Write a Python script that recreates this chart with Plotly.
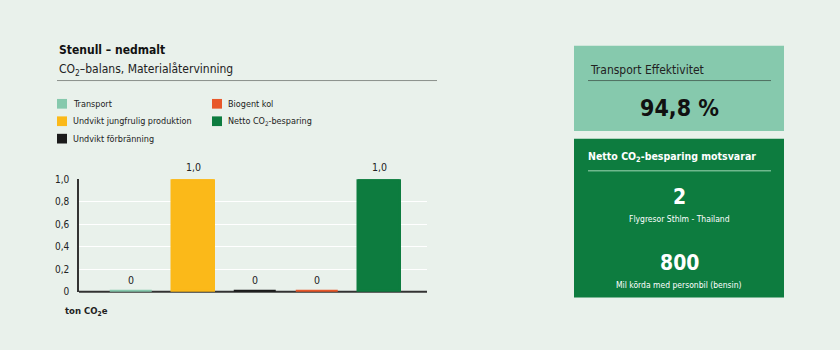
import plotly.graph_objects as go

# ---- data -------------------------------------------------------------
categories = [
    "Transport",
    "Undvikt jungfrulig produktion",
    "Undvikt förbränning",
    "Biogent kol",
    "Netto CO<sub>2</sub>-besparing",
]
values = [0.0, 1.0, 0.0, 0.0, 1.0]
colors = ["#86c9ad", "#fbb919", "#1b1b1b", "#e8582a", "#0d7c3f"]

y_tickvals = [0, 0.2, 0.4, 0.6, 0.8, 1.0]
y_ticktext = ["0", "0,2", "0,4", "0,6", "0,8", "1,0"]

chart_title = "Stenull – nedmalt"
chart_subtitle = "CO<sub>2</sub>–balans, Materialåtervinning"
unit_label = "ton CO<sub>2</sub>e"

kpi_label = "Transport Effektivitet"
kpi_value = "94,8 %"

equiv_title = "Netto CO<sub>2</sub>-besparing motsvarar"
equiv_values = ["2", "800"]
equiv_labels = ["Flygresor Sthlm - Thailand", "Mil körda med personbil (bensin)"]

# ---- styling ----------------------------------------------------------
W, H = 840, 350
BG = "#e9f1eb"
TEAL_BOX = "#86c9ad"
GREEN_BOX = "#0d7c3f"
AXIS = "#333333"
TEXT = "#222222"
NARROW = "Liberation Sans Narrow, Arial Narrow, DejaVu Sans Condensed, sans-serif"


def px(x):
    return x / W


def py(y):
    return 1 - y / H


def fmt(v):
    return "0" if v == 0 else f"{v:.1f}".replace(".", ",")


x_pos = list(range(len(categories)))

fig = go.Figure()
fig.add_trace(
    go.Bar(
        x=x_pos,
        y=values,
        width=0.68,
        marker=dict(color=colors, line=dict(color=colors, width=2.5)),
        cliponaxis=False,
        hoverinfo="skip",
        showlegend=False,
    )
)

annotations = []
shapes = []

# value labels above each bar
for xi, v in zip(x_pos, values):
    annotations.append(
        dict(
            x=xi, y=v, xref="x", yref="y", text=fmt(v), showarrow=False,
            yanchor="bottom", yshift=4,
            font=dict(family=NARROW, size=10.5, color=TEXT),
        )
    )

# baseline of the bar chart
shapes.append(dict(type="line", xref="paper", yref="paper", layer="below",
                   x0=px(79), x1=px(427), y0=py(296), y1=py(296),
                   line=dict(color=AXIS, width=2)))

# header texts and rule
annotations += [
    dict(x=px(57), y=py(46), text=f"<b>{chart_title}</b>", xanchor="left",
         yanchor="middle", font=dict(family=NARROW, size=12, color="#111")),
    dict(x=px(57), y=py(67), text=chart_subtitle, xanchor="left",
         yanchor="middle", font=dict(family=NARROW, size=12, color=TEXT)),
    dict(x=px(63), y=py(316), text=f"<b>{unit_label}</b>", xanchor="left",
         yanchor="middle", font=dict(family=NARROW, size=9.5, color=TEXT)),
]
shapes.append(dict(type="line", xref="paper", yref="paper",
                   x0=px(57), x1=px(437), y0=py(78), y1=py(78),
                   line=dict(color="#8a8f8b", width=1)))

# legend (two columns)
legend_slots = [(57, 102), (57, 120), (57, 138), (212, 102), (212, 120)]
for name, col, (lx, ly) in zip(categories, colors, legend_slots):
    shapes.append(dict(type="rect", xref="paper", yref="paper",
                       x0=px(lx), x1=px(lx + 10), y0=py(ly - 5), y1=py(ly + 5),
                       fillcolor=col, line=dict(width=0)))
    annotations.append(dict(x=px(lx + 14), y=py(ly), text=name, xanchor="left",
                            yanchor="middle",
                            font=dict(family=NARROW, size=9, color=TEXT)))

# KPI panel
shapes.append(dict(type="rect", xref="paper", yref="paper", layer="below",
                   x0=px(574), x1=px(784), y0=py(42), y1=py(130),
                   fillcolor=TEAL_BOX, line=dict(width=0)))
shapes.append(dict(type="line", xref="paper", yref="paper",
                   x0=px(588), x1=px(771), y0=py(78), y1=py(78),
                   line=dict(color="#4f6f61", width=1)))
annotations += [
    dict(x=px(588), y=py(67), text=kpi_label, xanchor="left", yanchor="middle",
         font=dict(family=NARROW, size=12, color=TEXT)),
    dict(x=px(679), y=py(106), text=f"<b>{kpi_value}</b>", xanchor="center",
         yanchor="middle", font=dict(family=NARROW, size=23, color="#111")),
]

# equivalence panel
shapes.append(dict(type="rect", xref="paper", yref="paper", layer="below",
                   x0=px(574), x1=px(784), y0=py(138), y1=py(302),
                   fillcolor=GREEN_BOX, line=dict(width=0)))
shapes.append(dict(type="line", xref="paper", yref="paper",
                   x0=px(588), x1=px(771), y0=py(171), y1=py(171),
                   line=dict(color="#6fb88d", width=1.5)))
annotations.append(dict(x=px(586), y=py(157), text=f"<b>{equiv_title}</b>",
                        xanchor="left", yanchor="middle",
                        font=dict(family=NARROW, size=10.5, color="white")))
for (vy, ly), val, lab in zip([(198, 221), (266, 289)], equiv_values, equiv_labels):
    annotations.append(dict(x=px(679), y=py(vy), text=f"<b>{val}</b>",
                            xanchor="center", yanchor="middle",
                            font=dict(family=NARROW, size=21, color="white")))
    annotations.append(dict(x=px(679), y=py(ly), text=lab, xanchor="center",
                            yanchor="middle",
                            font=dict(family=NARROW, size=8.5, color="white")))

for a in annotations:
    a.setdefault("xref", "paper")
    a.setdefault("yref", "paper")
    a["showarrow"] = False

fig.update_layout(
    width=W,
    height=H,
    margin=dict(l=0, r=0, t=0, b=0),
    paper_bgcolor=BG,
    plot_bgcolor=BG,
    bargap=0,
    xaxis=dict(
        domain=[px(79), px(427)],
        range=[-0.839, 4.774],
        showticklabels=False,
        showgrid=False,
        zeroline=False,
        showline=False,
        ticks="",
        fixedrange=True,
    ),
    yaxis=dict(
        domain=[1 - 296 / H, 1 - 180 / H],
        range=[0, 1.0],
        tickvals=y_tickvals,
        ticktext=y_ticktext,
        tickfont=dict(family=NARROW, size=10, color=TEXT),
        ticks="",
        ticklabelstandoff=6,
        showgrid=True,
        gridcolor="white",
        gridwidth=1,
        zeroline=False,
        showline=True,
        linecolor=AXIS,
        linewidth=1.5,
        layer="below traces",
        fixedrange=True,
    ),
    shapes=shapes,
    annotations=annotations,
)

fig.write_html("out.html")
